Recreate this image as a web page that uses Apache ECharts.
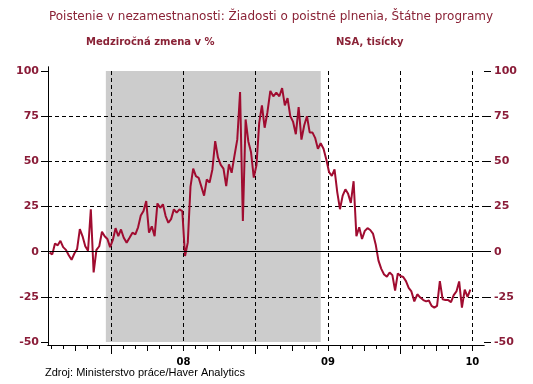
<!DOCTYPE html>
<html><head><meta charset="utf-8">
<script src="https://cdn.jsdelivr.net/npm/echarts@6/dist/echarts.min.js"></script>
<style>html,body{margin:0;padding:0;background:#fff}#c{width:533px;height:384px}</style>
</head><body><div id="c"></div>
<script>
// ---- texts ----
const chartTitle = 'Poistenie v nezamestnanosti: Žiadosti o poistné plnenia, Štátne programy';
const leftUnit = 'Medziročná zmena v %';
const rightUnit = 'NSA, tisícky';
const sourceText = 'Zdroj: Ministerstvo práce/Haver Analytics';

// ---- data: weekly, first week ending 2007-07-28 ----
const firstWeek = '2007-07-28';
const yoyChange = [
  -0.5, -1.5, 4.5, 3.5, 6, 2.5, 1, -2, -4.5, -1,
  1.5, 12.5, 8.5, 3, 0.5, 23.5, -11.5, 1, 3, 11,
  8.5, 7, 2.5, 6.5, 13, 8.6, 12.3, 7.7, 5, 7.7,
  10.5, 9.6, 13.5, 20, 22.5, 28, 10.5, 14, 8.6, 26.7,
  24.3, 26.2, 19.7, 16, 18, 23.4, 21.6, 23.4, 22.5, -2.4,
  5, 36, 46, 41.8, 40.9, 36, 31, 40, 38.2, 45.5,
  61.2, 52, 48, 46, 36.3, 48.3, 43.7, 53, 62, 88.3,
  17, 73.2, 61, 55, 41, 48, 71.3, 81, 68.6, 76.9,
  89, 86, 88, 86, 90.5, 81, 85, 75, 72, 65,
  80, 62, 70, 75, 66, 66, 63, 57, 60, 57,
  51, 44, 42, 45.5, 33, 23.5, 31, 34.5, 32, 27,
  39, 8.6, 13.5, 7, 11.5, 13, 12, 10, 4, -5,
  -9.5, -12.6, -13.8, -11.5, -13, -21.5, -12, -13.5, -14, -16.3,
  -20, -22, -27.5, -23.6, -25.4, -26.8, -27.5, -27, -30, -31,
  -30, -16.3, -26.4, -26.8, -26.8, -27.9, -24, -22, -16.5, -31,
  -21, -25, -21
];
const recession = ['2007-12-18', '2009-06-13'];
const axisStart = '2007-07-24', axisEnd = '2010-07-31';
const yMin = -50, yMax = 100, yStep = 25;

// ---- helpers ----
function toMonth(d) { // months since Jan 2000 (fractional)
  const y = d.getUTCFullYear(), mo = d.getUTCMonth(), day = d.getUTCDate();
  const dim = new Date(Date.UTC(y, mo + 1, 0)).getUTCDate();
  return (y - 2000) * 12 + mo + (day - 1) / dim;
}
const m = s => toMonth(new Date(s));
const t0 = Date.parse(firstWeek);
const lineData = yoyChange.map((v, i) => [toMonth(new Date(t0 + i * 7 * 86400000)), v]);

// ---- layout ----
const PLOT_L = 48, PLOT_R = 484, DATA_T = 71, DATA_B = 342, FRAME_T = 67, FRAME_B = 345;
const xMin = m(axisStart), xMax = m(axisEnd);
const k = (PLOT_R - PLOT_L) / (xMax - xMin);
function span(m0, m1, top, bottom) {
  return { left: PLOT_L + (m0 - xMin) * k, width: (m1 - m0) * k, top: top, height: bottom - top,
           containLabel: false, outerBoundsMode: 'none' };
}
const RED = '#8a1c38';
const LINE = '#a00c30';

const grids = [
  { left: PLOT_L, width: PLOT_R - PLOT_L, top: DATA_T, height: DATA_B - DATA_T, containLabel: false, outerBoundsMode: 'none' }, // 0 data
  { left: PLOT_L, width: PLOT_R - PLOT_L, top: FRAME_T, height: FRAME_B - FRAME_T, containLabel: false, outerBoundsMode: 'none' }, // 1 frame
  span(91, 126, FRAME_T, FRAME_B),   // 2 monthly ticks
  span(93, 126, FRAME_T, FRAME_B),   // 3 quarterly ticks
  span(96, 120, FRAME_T, FRAME_B),   // 4 yearly ticks
  span(102, 126, FRAME_T, FRAME_B),  // 5 year labels (mid-year)
  span(96, 126, DATA_T, DATA_B)      // 6 half-year dashed lines
];

function tickAxis(g, m0, m1, step, len) {
  return { type: 'value', gridIndex: g, min: m0, max: m1, interval: step, position: 'bottom', z: 2,
    axisLine: { show: false }, axisLabel: { show: false }, splitLine: { show: false },
    axisTick: { show: true, length: len, lineStyle: { color: '#000', width: 1 } } };
}
const blackLine = { show: true, lineStyle: { color: '#000', width: 1 } };
const xAxes = [
  { type: 'value', gridIndex: 0, min: xMin, max: xMax, show: false },
  { type: 'value', gridIndex: 1, min: 0, max: 1, position: 'bottom', z: 3, axisLine: blackLine, axisTick: { show: false }, axisLabel: { show: false }, splitLine: { show: false } },
  { type: 'value', gridIndex: 1, min: 0, max: 1, position: 'top', z: 3, axisLine: blackLine, axisTick: { show: false }, axisLabel: { show: false }, splitLine: { show: false } },
  tickAxis(2, 91, 126, 1, 4),
  tickAxis(3, 93, 126, 3, 6),
  tickAxis(4, 96, 120, 12, 9),
  { type: 'value', gridIndex: 5, min: 102, max: 126, interval: 12, position: 'bottom',
    axisLine: { show: false }, axisTick: { show: false }, splitLine: { show: false },
    axisLabel: { show: true, showMinLabel: true, showMaxLabel: true, margin: 12,
      formatter: v => String(Math.round(2000 + (v - 6) / 12)).slice(-2),
      fontFamily: 'DejaVu Sans', fontWeight: 'bold', fontSize: 10, color: '#000' } },
  { type: 'value', gridIndex: 6, min: 96, max: 126, interval: 6, z: 2,
    axisLine: { show: false }, axisTick: { show: false }, axisLabel: { show: false },
    splitLine: { show: true, showMinLine: true, showMaxLine: true, lineStyle: { color: '#000', type: [4, 3], width: 1 } } }
];
const yLabel = { show: true, fontFamily: 'DejaVu Sans', fontWeight: 'bold', fontSize: 11, color: RED };
const yAxes = [
  { type: 'value', gridIndex: 0, min: yMin, max: yMax, interval: yStep, position: 'left', z: 2,
    axisLine: { show: false },
    axisTick: { show: true, length: 7, lineStyle: { color: '#000', width: 1 } },
    axisLabel: Object.assign({ margin: 9 }, yLabel),
    splitLine: { show: true, showMinLine: false, showMaxLine: false, lineStyle: { color: '#000', type: [4, 3], width: 1 } } },
  { type: 'value', gridIndex: 0, min: yMin, max: yMax, interval: yStep, position: 'right', z: 2,
    axisLine: { show: false },
    axisTick: { show: true, length: 7, lineStyle: { color: '#000', width: 1 } },
    axisLabel: Object.assign({ margin: 10 }, yLabel),
    splitLine: { show: false } },
  { type: 'value', gridIndex: 1, min: 0, max: 1, position: 'left', z: 3, axisLine: blackLine, axisTick: { show: false }, axisLabel: { show: false }, splitLine: { show: false } },
  { type: 'value', gridIndex: 1, min: 0, max: 1, position: 'right', z: 3, axisLine: blackLine, axisTick: { show: false }, axisLabel: { show: false }, splitLine: { show: false } }
];
for (let g = 2; g <= 6; g++) yAxes.push({ type: 'value', gridIndex: g, min: 0, max: 1, show: false });

const chart = echarts.init(document.getElementById('c'), null, { renderer: 'canvas' });
chart.setOption({
  animation: false,
  backgroundColor: '#ffffff',
  grid: grids,
  xAxis: xAxes,
  yAxis: yAxes,
  series: [
    { type: 'line', xAxisIndex: 0, yAxisIndex: 0, data: [], z: 1, silent: true,
      markArea: { silent: true, itemStyle: { color: '#cccccc' },
        data: [[{ xAxis: m(recession[0]) }, { xAxis: m(recession[1]) }]] } },
    { type: 'line', xAxisIndex: 0, yAxisIndex: 0, data: [], z: 2, silent: true,
      markLine: { silent: true, symbol: 'none', label: { show: false },
        lineStyle: { color: '#000', type: 'solid', width: 1 }, data: [{ yAxis: 0 }] } },
    { type: 'line', xAxisIndex: 0, yAxisIndex: 0, data: lineData, z: 4, showSymbol: false, silent: true,
      lineStyle: { color: LINE, width: 2 }, itemStyle: { color: LINE } }
  ],
  graphic: [
    { type: 'text', x: 271, y: 17, style: { text: chartTitle, align: 'center', verticalAlign: 'middle', font: '12px "DejaVu Sans"', fill: '#8a2236' } },
    { type: 'text', x: 86, y: 42, style: { text: leftUnit, align: 'left', verticalAlign: 'middle', font: 'bold 10px "DejaVu Sans"', fill: '#8a2236' } },
    { type: 'text', x: 336, y: 42, style: { text: rightUnit, align: 'left', verticalAlign: 'middle', font: 'bold 10px "DejaVu Sans"', fill: '#8a2236' } },
    { type: 'text', x: 45, y: 373, style: { text: sourceText, align: 'left', verticalAlign: 'middle', font: '11px "Liberation Sans"', fill: '#000' } }
  ]
});
</script></body></html>
